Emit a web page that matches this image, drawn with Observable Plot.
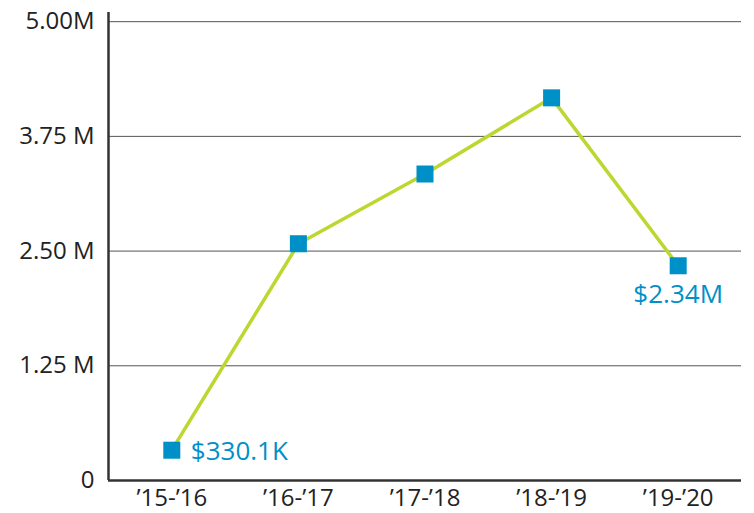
<!DOCTYPE html>
<html>
<head>
<meta charset="utf-8">
<script src="https://cdn.jsdelivr.net/npm/d3@7"></script>
<script src="https://cdn.jsdelivr.net/npm/@observablehq/plot@0.6"></script>
<style>
  html, body { margin: 0; padding: 0; background: #fff; }
  svg { display: block; }
</style>
</head>
<body>
<div id="chart"></div>
<script>
const categories = ["\u201915-\u201916", "\u201916-\u201917", "\u201917-\u201918", "\u201918-\u201919", "\u201919-\u201920"];
const values = [330100, 2580000, 3340000, 4170000, 2340000];
const yTicks = [0, 1250000, 2500000, 3750000, 5000000];
const yTickLabels = ["0", "1.25 M", "2.50 M", "3.75 M", "5.00M"];
const labelText = ["$330.1K", "", "", "", "$2.34M"];

const data = categories.map((c, i) => ({i, cat: c, value: values[i], label: labelText[i]}));
const gridTicks = yTicks.filter(t => t > 0);

const font = "'Open Sans', 'Noto Sans', sans-serif";

const chart = Plot.plot({
  width: 754,
  height: 513,
  marginTop: 12,
  marginBottom: 33,
  marginLeft: 108,
  marginRight: 13,
  style: {fontFamily: font, background: "#fff"},
  x: {domain: [-0.5, categories.length - 0.5], axis: null},
  y: {domain: [0, 5100000], axis: null},
  marks: [
    Plot.ruleY(gridTicks, {stroke: "#555", strokeWidth: 1}),
    Plot.ruleY([0], {stroke: "#333", strokeWidth: 2.5}),
    Plot.ruleX([-0.5], {stroke: "#333", strokeWidth: 2.5}),
    Plot.axisY({
      ticks: yTicks,
      tickSize: 0,
      tickPadding: 14,
      label: null,
      tickFormat: (d) => yTickLabels[yTicks.indexOf(d)],
      fontSize: 24,
      fill: "#222"
    }),
    Plot.axisX({
      ticks: categories.map((c, i) => i),
      tickSize: 0,
      tickPadding: 8,
      label: null,
      tickFormat: (d) => categories[d],
      fontSize: 24,
      fill: "#222"
    }),
    Plot.line(data, {x: "i", y: "value", stroke: "#bed630", strokeWidth: 3.5}),
    Plot.dot(data, {x: "i", y: "value", symbol: "square", r: 9.6, fill: "#0090c8", stroke: "none"}),
    Plot.text(data.filter(d => d.i === 0), {x: "i", y: "value", text: "label", textAnchor: "start", dx: 19, dy: 1, fill: "#0090c8", fontSize: 26}),
    Plot.text(data.filter(d => d.i === 4), {x: "i", y: "value", text: "label", textAnchor: "middle", dy: 29, fill: "#0090c8", fontSize: 26})
  ]
});
document.getElementById("chart").appendChild(chart);
</script>
</body>
</html>
